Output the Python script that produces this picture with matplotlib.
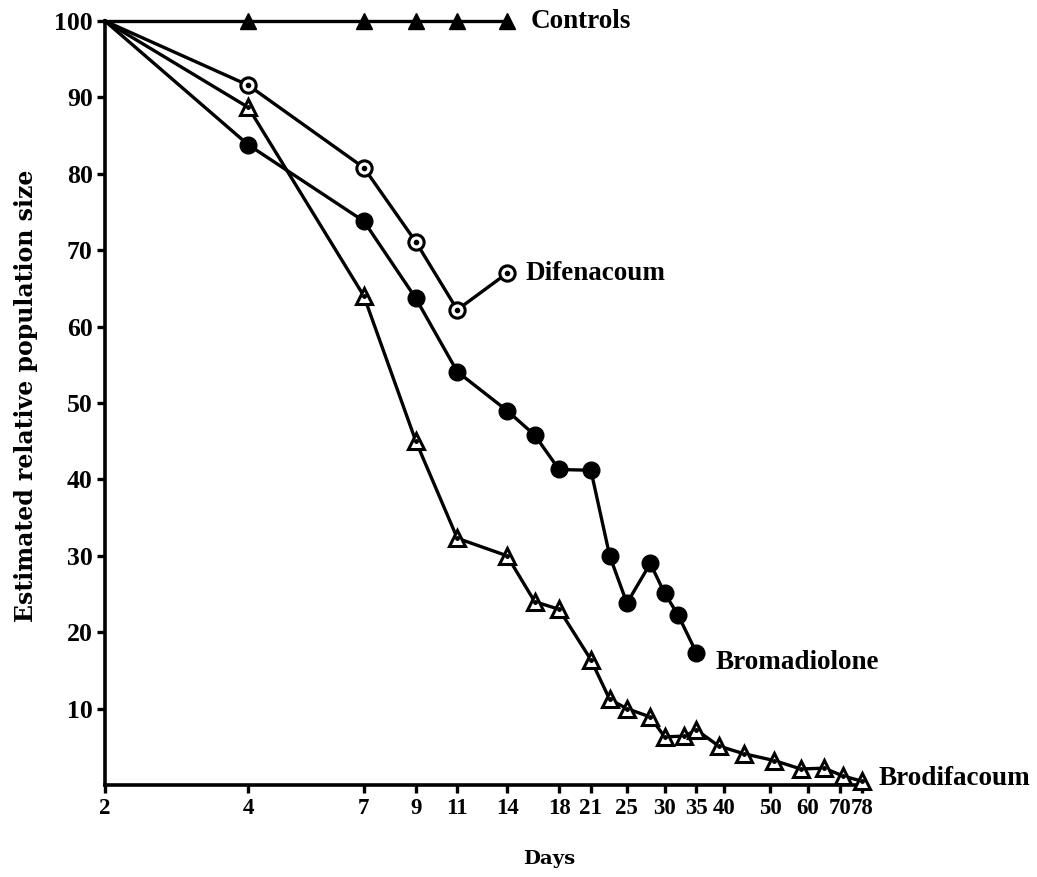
import matplotlib
matplotlib.use("Agg")
import matplotlib.pyplot as plt
from matplotlib.ticker import FixedLocator, NullLocator

plt.rcParams['font.family'] = ['Liberation Serif', 'DejaVu Serif']
plt.rcParams['font.weight'] = 'bold'

# ---- data ----
days_controls = [2, 4, 7, 9, 11, 14]
controls = [100, 100, 100, 100, 100, 100]

days_difenacoum = [2, 4, 7, 9, 11, 14]
difenacoum = [100, 91.6, 80.8, 71.1, 62.2, 67.0]

days_bromadiolone = [2, 4, 7, 9, 11, 14, 16, 18, 21, 23, 25, 28, 30, 32, 35]
bromadiolone = [100, 83.8, 73.8, 63.7, 54.1, 49.0, 45.8, 41.3, 41.2, 30.0,
                23.8, 29.0, 25.1, 22.3, 17.3]

days_brodifacoum = [2, 4, 7, 9, 11, 14, 16, 18, 21, 23, 25, 28, 30, 33, 35,
                    39, 44, 51, 58, 65, 71, 78]
brodifacoum = [100, 88.7, 64.0, 45.0, 32.3, 30.0, 24.0, 23.0, 16.4, 11.2,
               10.0, 8.9, 6.3, 6.4, 7.2, 5.1, 4.1, 3.2, 2.1, 2.2, 1.2, 0.5]

x_ticks = [2, 4, 7, 9, 11, 14, 18, 21, 25, 30, 35, 40, 50, 60, 70, 78]
y_ticks = [10, 20, 30, 40, 50, 60, 70, 80, 90, 100]

series_labels = ["Controls", "Difenacoum", "Bromadiolone", "Brodifacoum"]
label_anchor_days = [15.7, 15.3, 38.4, 84.5]
label_anchor_vals = [100, 67.0, 16.0, 0.9]

# ---- figure ----
fig = plt.figure(figsize=(10.37, 8.77), dpi=100)
ax = fig.add_axes([0.1013, 0.1049, 0.7325, 0.8711])

lw = 2.4
ax.plot(days_controls, controls, color='black', lw=lw, marker='^', ms=11,
        mfc='black', mec='black', markevery=slice(1, None), clip_on=False,
        zorder=3)
ax.plot(days_difenacoum, difenacoum, color='black', lw=lw, marker='o', ms=11,
        mfc='white', mec='black', mew=2.2, markevery=slice(1, None),
        clip_on=False, zorder=3)
ax.plot(days_difenacoum[1:], difenacoum[1:], ls='none', marker='o', ms=3,
        mfc='black', mec='black', zorder=4)
ax.plot(days_bromadiolone, bromadiolone, color='black', lw=lw, marker='o',
        ms=12, mfc='black', mec='black', markevery=slice(1, None),
        clip_on=False, zorder=3)
ax.plot(days_brodifacoum, brodifacoum, color='black', lw=lw, marker='^',
        ms=11, mfc='white', mec='black', mew=2.2, markevery=slice(1, None),
        clip_on=False, zorder=3)
ax.plot(days_brodifacoum[1:], brodifacoum[1:], ls='none', marker='o', ms=2.5,
        mfc='black', mec='black', clip_on=False, zorder=4)

for lab, dx, vy in zip(series_labels, label_anchor_days, label_anchor_vals):
    ax.text(dx, vy, lab, fontsize=19.5, fontweight='bold', ha='left',
            va='center', clip_on=False)

ax.set_xscale('log')
ax.set_xlim(2, 79)
ax.set_ylim(0, 100)
ax.xaxis.set_major_locator(FixedLocator(x_ticks))
ax.xaxis.set_minor_locator(NullLocator())
ax.set_xticklabels([str(t) for t in x_ticks])
ax.set_yticks(y_ticks)
ax.set_yticklabels([str(t) for t in y_ticks])

for s in ['top', 'right']:
    ax.spines[s].set_visible(False)
for s in ['left', 'bottom']:
    ax.spines[s].set_linewidth(2.6)

ax.tick_params(axis='both', which='major', direction='out', length=6,
               width=2.4, pad=3)
ax.tick_params(axis='x', labelsize=16.5)
ax.tick_params(axis='y', labelsize=18.5)
for t in ax.get_xticklabels() + ax.get_yticklabels():
    t.set_fontweight('bold')

ax.set_xlabel("Days", fontsize=14, fontweight='bold',
              family=['DejaVu Serif'])
ax.xaxis.set_label_coords(0.585, -0.085)
ax.set_ylabel("Estimated relative population size", fontsize=17,
              fontweight='bold', family=['DejaVu Serif'])
ax.yaxis.set_label_coords(-0.088, 0.51)

fig.savefig("out.png", dpi=100)
